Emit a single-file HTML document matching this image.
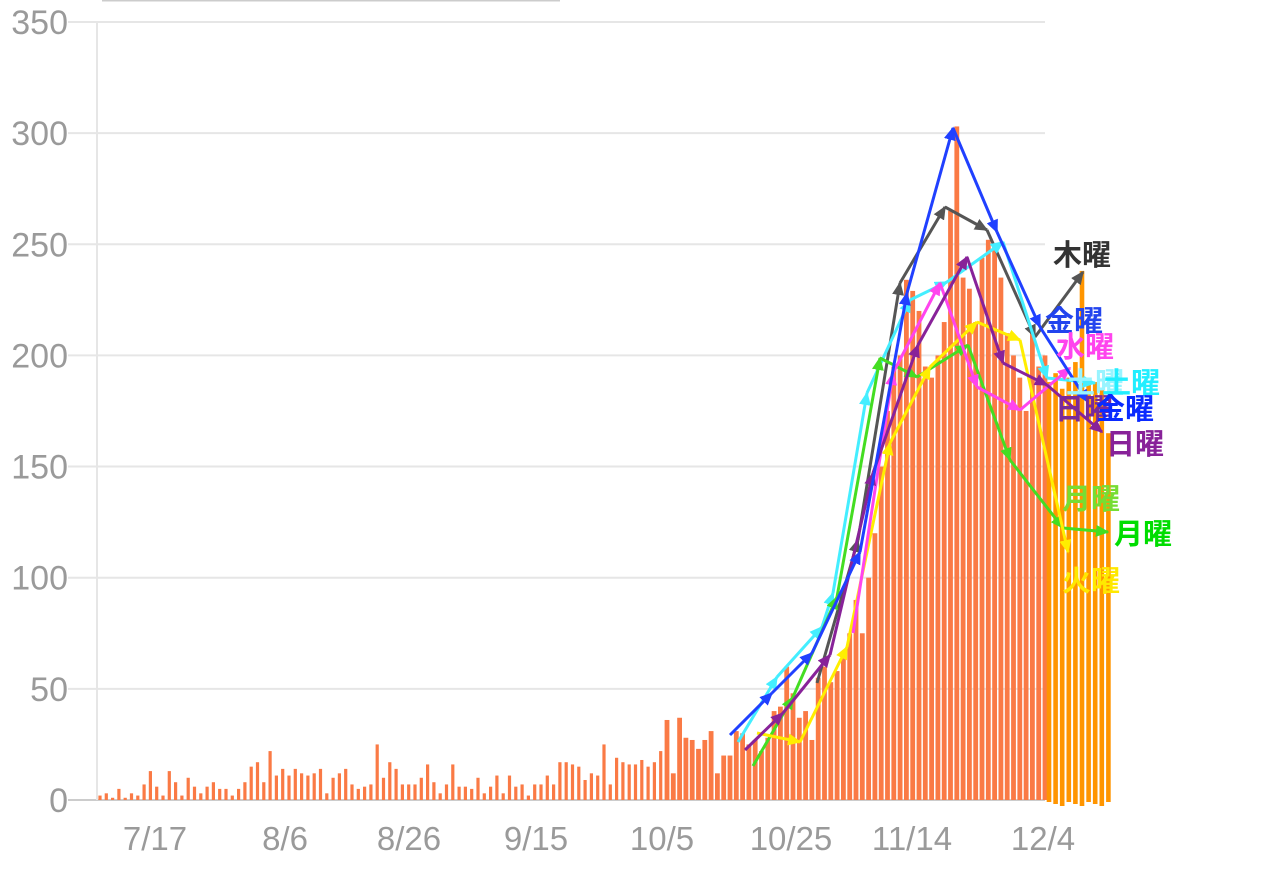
<!DOCTYPE html>
<html><head><meta charset="utf-8"><style>
body{margin:0;background:#fff;width:1261px;height:870px;overflow:hidden}
svg{display:block}
.yl{font-family:"Liberation Sans",sans-serif;font-size:34px;fill:#9a9a9a;text-anchor:end}
.xl{font-family:"Liberation Sans",sans-serif;font-size:33px;fill:#9a9a9a;text-anchor:middle}
.lb{font-family:"Liberation Sans","Noto Sans CJK JP",sans-serif;font-size:29px;font-weight:bold}
</style></head><body>
<svg id="s" width="1261" height="870" xmlns="http://www.w3.org/2000/svg"></svg>
<script>
var s=document.getElementById('s'),h='';
function Y(v){return 800-v*2.223;}
h+='<line x1="102" y1="0.5" x2="560" y2="0.5" stroke="#ccc" stroke-width="2"/>';
for(var v=0;v<=350;v+=50){var y=Y(v);
 h+='<line x1="68" y1="'+y+'" x2="1045" y2="'+y+'" stroke="'+(v==0?'#ccc':'#e6e6e6')+'" stroke-width="2"/>';
 h+='<text class="yl" x="68" y="'+(y+12)+'">'+v+'</text>';}
h+='<line x1="97" y1="21" x2="97" y2="800" stroke="#e6e6e6" stroke-width="2"/>';
var xs=[['7/17',155],['8/6',285],['8/26',409],['9/15',536],['10/5',662],['10/25',791],['11/14',912],['12/4',1043]];
xs.forEach(function(a){h+='<text class="xl" x="'+a[1]+'" y="850">'+a[0]+'</text>';});
var d=[2,3,1,5,1,3,2,7,13,6,2,13,8,2,10,6,3,6,8,5,5,2,5,8,15,17,8,22,11,14,11,14,12,11,12,14,3,10,12,14,7,5,6,7,25,10,17,14,7,7,7,10,16,8,3,7,16,6,6,5,10,3,6,11,3,11,6,7,2,7,7,11,7,17,17,16,15,9,12,11,25,7,19,17,16,16,18,15,17,22,36,12,37,28,27,23,
27,31,12,20,20,31,30,25,27,22,28,40,42,60,48,37,40,27,55,60,53,58,65,75,90,75,100,120,150,175,195,200,234,229,220,195,190,200,215,265,303,235,230,215,244,252,250,235,210,200,190,175,210,195,200];
for(var i=0;i<d.length;i++){var x=100+6.3*i,w=i<90?3.2:4.8;
 h+='<rect x="'+(x-w/2)+'" y="'+Y(d[i])+'" width="'+w+'" height="'+(d[i]*2.223)+'" fill="#fa7a45"/>';}
var o=[188,192,185,190,197,238,190,188,185,165];
for(var j=0;j<o.length;j++){var x=1049+6.6*j;
 h+='<rect x="'+(x-2.3)+'" y="'+Y(o[j])+'" width="4.6" height="'+(o[j]*2.223+2+(j%3)*2)+'" fill="#ff9500"/>';}
var L=[
['#555',[[817,683],[858,540],[900,283],[945,207],[987,230],[1035,337],[1083,272]]],
['#44eeff',[[738,742],[777,677],[822,627],[833,593],[867,393],[910,300],[947,282],[1003,242],[1047,378],[1095,383]]],
['#44dd22',[[753,766],[793,697],[837,597],[880,358],[917,377],[968,345],[1010,460],[1063,528],[1108,532]]],
['#ffee00',[[757,733],[800,742],[847,647],[890,443],[930,367],[977,322],[1020,340],[1068,552]]],
['#ff44ee',[[853,633],[893,373],[940,283],[977,387],[1020,410],[1070,368]]],
['#882299',[[745,750],[783,713],[830,655],[873,473],[918,345],[967,257],[1003,363],[1047,385],[1102,432]]],
['#2040ff',[[730,735],[772,693],[812,653],[860,552],[907,293],[953,128],[997,232],[1040,327],[1088,402]]]];
var defs='<defs>';
L.forEach(function(l,k){defs+='<marker id="m'+k+'" markerWidth="4.5" markerHeight="4" refX="4" refY="2" orient="auto" markerUnits="strokeWidth"><path d="M0,0L4.5,2L0,4z" fill="'+l[0]+'"/></marker>';
 for(var i=1;i<l[1].length;i++){var a=l[1][i-1],b=l[1][i];
  h+='<line x1="'+a[0]+'" y1="'+a[1]+'" x2="'+b[0]+'" y2="'+b[1]+'" stroke="'+l[0]+'" stroke-width="3" marker-end="url(#m'+k+')"/>';}});
defs+='</defs>';
var T=[['木曜',1053,265,'#333'],['金曜',1045,331,'#2244ee'],['水曜',1056,357,'#ff44ee'],['土曜',1066,393,'#99f4ff'],['土曜',1102,393,'#22eeff'],['日曜',1055,419,'#7a2a99'],['金曜',1096,419,'#0a2aff'],['日曜',1106,454,'#882299'],['月曜',1062,509,'#77dd33'],['月曜',1114,544,'#00dd00'],['火曜',1062,591,'#ffe800']];
T.forEach(function(t){h+='<text class="lb" x="'+t[1]+'" y="'+t[2]+'" fill="'+t[3]+'">'+t[0]+'</text>';});
s.innerHTML=defs+h;
</script>
</body></html>
